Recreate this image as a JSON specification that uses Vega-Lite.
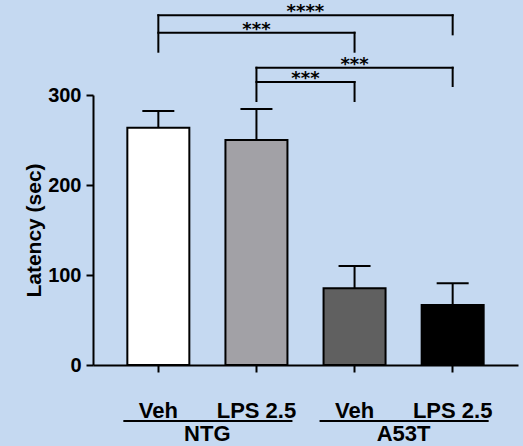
{
  "$schema": "https://vega.github.io/schema/vega-lite/v6.json",
  "width": 425,
  "height": 270,
  "autosize": {"type": "none"},
  "padding": {"left": 93, "top": 95, "right": 5, "bottom": 81},
  "background": "#c5d9f1",
  "config": {
    "view": {"stroke": null},
    "font": "Liberation Sans",
    "axisY": {
      "grid": false,
      "labelFont": "Liberation Sans",
      "labelFontWeight": "bold",
      "labelFontSize": 20,
      "labelColor": "black",
      "labelPadding": 5,
      "tickSize": 7,
      "tickWidth": 2,
      "tickColor": "black",
      "domainColor": "black",
      "domainWidth": 2,
      "titleFont": "Liberation Sans",
      "titleFontWeight": "bold",
      "titleFontSize": 21,
      "titleColor": "black",
      "titlePadding": 3
    },
    "axisX": {
      "grid": false,
      "labelAngle": 0,
      "labelFont": "Liberation Sans",
      "labelFontWeight": "bold",
      "labelFontSize": 22,
      "labelColor": "black",
      "labelPadding": 28,
      "tickSize": 7,
      "tickWidth": 2,
      "tickColor": "black",
      "domainColor": "black",
      "domainWidth": 2
    }
  },
  "datasets": {
    "bars": [
      {"cond": "NTG|Veh", "latency": 263.5, "upper": 282.2},
      {"cond": "NTG|LPS 2.5", "latency": 250, "upper": 284.4},
      {"cond": "A53T|Veh", "latency": 85.2, "upper": 110},
      {"cond": "A53T|LPS 2.5", "latency": 66.7, "upper": 90.8}
    ],
    "spans": [
      {"from": "NTG|Veh", "to": "A53T|LPS 2.5", "level": 388.6},
      {"from": "NTG|Veh", "to": "A53T|Veh", "level": 369.2},
      {"from": "NTG|LPS 2.5", "to": "A53T|LPS 2.5", "level": 330.3},
      {"from": "NTG|LPS 2.5", "to": "A53T|Veh", "level": 314.4}
    ],
    "legs": [
      {"at": "NTG|Veh", "top": 388.6, "bottom": 348.1},
      {"at": "A53T|LPS 2.5", "top": 388.6, "bottom": 367.4},
      {"at": "A53T|Veh", "top": 369.2, "bottom": 348.1},
      {"at": "NTG|LPS 2.5", "top": 330.3, "bottom": 293.3},
      {"at": "A53T|LPS 2.5", "top": 330.3, "bottom": 310},
      {"at": "A53T|Veh", "top": 314.4, "bottom": 293.3}
    ],
    "starsOnBand": [
      {"at": "NTG|LPS 2.5", "level": 369.2, "stars": "***"},
      {"at": "A53T|Veh", "level": 330.3, "stars": "***"}
    ],
    "starsBetween": [
      {"at": "NTG|LPS 2.5", "level": 388.6, "stars": "****"},
      {"at": "NTG|LPS 2.5", "level": 314.4, "stars": "***"}
    ],
    "groups": [
      {"first": "NTG|Veh", "last": "NTG|LPS 2.5", "name": "NTG"},
      {"first": "A53T|Veh", "last": "A53T|LPS 2.5", "name": "A53T"}
    ]
  },
  "layer": [
    {
      "data": {"name": "bars"},
      "mark": {"type": "bar", "stroke": "black", "strokeWidth": 2, "opacity": 1},
      "encoding": {
        "x": {
          "field": "cond", "type": "nominal", "sort": null,
          "scale": {"domain": ["NTG|Veh", "NTG|LPS 2.5", "A53T|Veh", "A53T|LPS 2.5"], "paddingInner": 0.368, "paddingOuter": 0.35},
          "axis": {"title": null, "labelExpr": "split(datum.value, '|')[1]"}
        },
        "y": {
          "field": "latency", "type": "quantitative",
          "scale": {"domain": [0, 300], "nice": false},
          "axis": {"title": "Latency (sec)", "values": [0, 100, 200, 300]}
        },
        "color": {
          "field": "cond", "type": "nominal", "legend": null,
          "scale": {"domain": ["NTG|Veh", "NTG|LPS 2.5", "A53T|Veh", "A53T|LPS 2.5"], "range": ["#ffffff", "#a2a1a6", "#606060", "#000000"]}
        }
      }
    },
    {
      "data": {"name": "bars"},
      "mark": {"type": "rule", "color": "black", "strokeWidth": 2},
      "encoding": {
        "x": {"field": "cond", "type": "nominal"},
        "y": {"field": "latency", "type": "quantitative"},
        "y2": {"field": "upper"}
      }
    },
    {
      "data": {"name": "bars"},
      "mark": {"type": "tick", "color": "black", "size": 32, "thickness": 2, "opacity": 1},
      "encoding": {
        "x": {"field": "cond", "type": "nominal"},
        "y": {"field": "upper", "type": "quantitative"}
      }
    },
    {
      "data": {"name": "spans"},
      "mark": {"type": "rule", "color": "black", "strokeWidth": 2, "strokeCap": "square"},
      "encoding": {
        "x": {"field": "from", "type": "nominal"},
        "x2": {"field": "to"},
        "y": {"field": "level", "type": "quantitative"}
      }
    },
    {
      "data": {"name": "legs"},
      "mark": {"type": "rule", "color": "black", "strokeWidth": 2, "strokeCap": "square"},
      "encoding": {
        "x": {"field": "at", "type": "nominal"},
        "y": {"field": "top", "type": "quantitative"},
        "y2": {"field": "bottom"}
      }
    },
    {
      "data": {"name": "starsOnBand"},
      "mark": {"type": "text", "font": "DejaVu Sans", "fontWeight": "bold", "fontSize": 18, "baseline": "alphabetic", "align": "center", "dy": 2, "color": "black"},
      "encoding": {
        "x": {"field": "at", "type": "nominal"},
        "y": {"field": "level", "type": "quantitative"},
        "text": {"field": "stars"}
      }
    },
    {
      "data": {"name": "starsBetween"},
      "mark": {"type": "text", "font": "DejaVu Sans", "fontWeight": "bold", "fontSize": 18, "baseline": "alphabetic", "align": "center", "dy": 2, "xOffset": 49, "color": "black"},
      "encoding": {
        "x": {"field": "at", "type": "nominal"},
        "y": {"field": "level", "type": "quantitative"},
        "text": {"field": "stars"}
      }
    },
    {
      "data": {"name": "groups"},
      "mark": {"type": "rule", "color": "black", "strokeWidth": 2, "xOffset": -35, "x2Offset": 36},
      "encoding": {
        "x": {"field": "first", "type": "nominal"},
        "x2": {"field": "last"},
        "y": {"datum": -62.2, "type": "quantitative"}
      }
    },
    {
      "data": {"name": "groups"},
      "mark": {"type": "text", "font": "Liberation Sans", "fontWeight": "bold", "fontSize": 22, "baseline": "alphabetic", "align": "center", "xOffset": 49, "color": "black"},
      "encoding": {
        "x": {"field": "first", "type": "nominal"},
        "y": {"datum": -84.4, "type": "quantitative"},
        "text": {"field": "name"}
      }
    }
  ]
}
